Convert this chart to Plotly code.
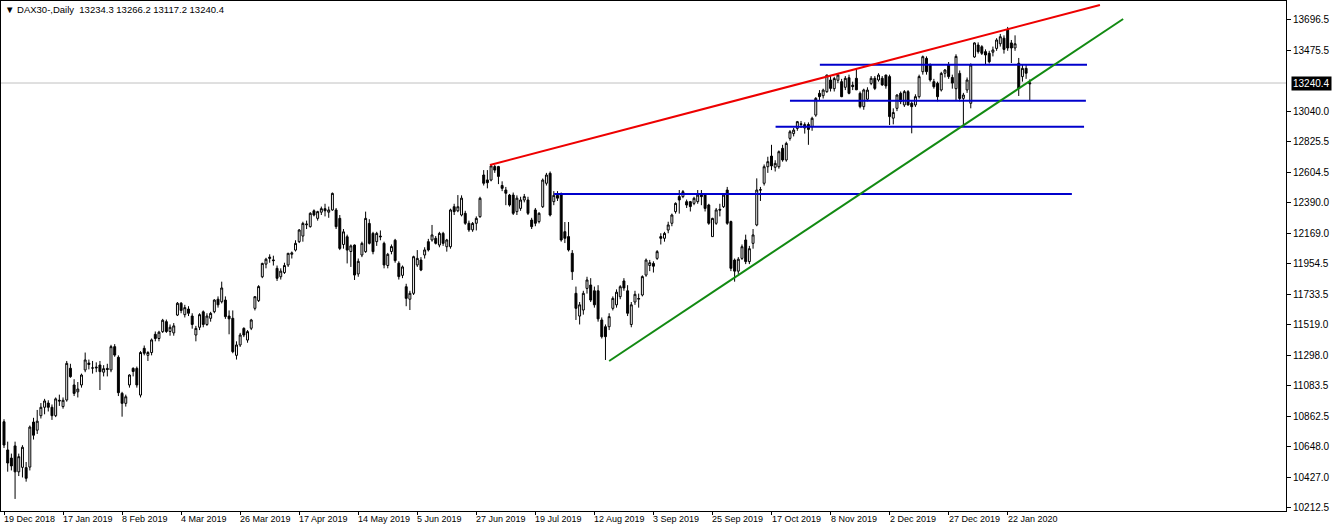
import plotly.graph_objects as go

# ---- Daily OHLC (bar index 0 = 19 Dec 2018, last = 30 Jan 2020) ----
opens = [
    10827, 10626, 10568, 10655, 10470, 10502, 10500, 10504, 10825, 10767,
    10870, 10930, 10960, 10930, 10870, 10980, 10935, 10982, 11208, 11089,
    11040, 11089, 11196, 11245, 11210, 11210, 11231, 11180, 11207, 11196,
    11362, 11286, 11029, 10958, 11089, 11207, 11207, 11017, 11350, 11300,
    11320, 11450, 11420, 11469, 11540, 11470, 11460, 11587, 11671, 11590,
    11630, 11580, 11445, 11500, 11610, 11520, 11564, 11611, 11700, 11682,
    11694, 11580, 11564, 11300, 11374, 11492, 11409, 11493, 11635, 11690,
    11860, 11950, 11990, 11980, 11920, 11860, 11890, 11944, 12020, 12050,
    12110, 12150, 12230, 12217, 12330, 12276, 12320, 12345, 12320, 12336,
    12336, 12276, 12090, 12145, 12040, 12086, 11880, 12015, 12039, 12240,
    12169, 12110, 12150, 12098, 11940, 12040, 12120, 11956, 11870, 11789,
    11700, 11742, 11944, 11979, 12015, 12110, 12122, 12134, 12086, 12169,
    12074, 12074, 12359, 12330, 12300, 12312, 12241, 12194, 12241, 12288,
    12585, 12550, 12549, 12645, 12645, 12510, 12478, 12442, 12442, 12324,
    12347, 12407, 12407, 12264, 12336, 12253, 12359, 12526, 12597, 12395,
    12440, 12443, 12181, 12146, 12027, 11742, 11580, 11623, 11777, 11801,
    11760, 11760, 11552, 11504, 11504, 11635, 11660, 11718, 11830, 11760,
    11520, 11680, 11700, 11730, 11872, 11940, 11955, 11991, 12146, 12134,
    12193, 12241, 12324, 12431, 12431, 12395, 12395, 12383, 12395, 12442,
    12442, 12371, 12146, 12241, 12340, 12359, 12478, 12253, 11979, 11900,
    11991, 12122, 11968, 12098, 12229, 12480, 12526, 12644, 12720, 12640,
    12644, 12775, 12692, 12846, 12880, 12917, 12950, 12920, 12945, 12929,
    13012, 13167, 13150, 13179, 13262, 13200, 13260, 13250, 13210, 13278,
    13225, 13274, 13167, 13072, 13125, 13238, 13274, 13262, 13274, 13297,
    13286, 12990, 13060, 13167, 13084, 13179, 13096, 13084, 13143, 13321,
    13416, 13369, 13250, 13238, 13191, 13310, 13369, 13280, 13200, 13309,
    13131, 13191, 13096, 13426, 13511, 13499, 13464, 13452, 13460, 13487,
    13520, 13560, 13620, 13526, 13490, 13381, 13286, 13345, 13234.3,
]
highs = [
    10845, 10685, 10600, 10685, 10600, 10660, 10540, 10800, 10855, 10911,
    10960, 10990, 10980, 10950, 11000, 11020, 11000, 11260, 11240, 11130,
    11110, 11170, 11320, 11270, 11260, 11250, 11260, 11230, 11240, 11375,
    11380, 11300, 11040, 11020, 11165, 11215, 11220, 11330, 11370, 11330,
    11420, 11470, 11475, 11560, 11555, 11520, 11530, 11680, 11680, 11660,
    11650, 11600, 11510, 11600, 11620, 11600, 11610, 11700, 11720, 11825,
    11720, 11620, 11620, 11400, 11460, 11500, 11480, 11560, 11720, 11800,
    11960, 11995, 12020, 12010, 11940, 11920, 11960, 12030, 12040, 12120,
    12200, 12252, 12260, 12320, 12340, 12330, 12360, 12380, 12360, 12460,
    12350, 12300, 12200, 12160, 12090, 12090, 11990, 12110, 12324, 12270,
    12180, 12180, 12190, 12110, 12030, 12090, 12130, 11970, 11940, 11810,
    11760, 12010, 12050, 12000, 12070, 12130, 12229, 12150, 12180, 12180,
    12130, 12345, 12380, 12442, 12440, 12330, 12260, 12250, 12290, 12430,
    12620, 12620, 12656, 12656, 12650, 12540, 12500, 12450, 12460, 12440,
    12430, 12450, 12430, 12280, 12350, 12320, 12560, 12600, 12610, 12470,
    12470, 12460, 12250, 12250, 12050, 11790, 11680, 11760, 11860, 11850,
    11790, 11800, 11570, 11520, 11600, 11720, 11770, 11800, 11850, 11800,
    11680, 11760, 11740, 11870, 11990, 11980, 11970, 12050, 12170, 12180,
    12252, 12310, 12390, 12478, 12478, 12410, 12400, 12430, 12478, 12478,
    12450, 12380, 12280, 12350, 12380, 12450, 12500, 12260, 11990, 12000,
    12090, 12160, 12080, 12200, 12561, 12500, 12660, 12715, 12800, 12690,
    12760, 12800, 12822, 12905, 12920, 12970, 12970, 12960, 12960, 13000,
    13140, 13190, 13200, 13300, 13290, 13285, 13310, 13270, 13290, 13300,
    13250, 13345, 13180, 13200, 13210, 13290, 13290, 13310, 13290, 13300,
    13300, 13060, 13160, 13180, 13190, 13190, 13110, 13160, 13300, 13436,
    13430, 13380, 13270, 13250, 13320, 13340, 13390, 13300, 13445, 13330,
    13170, 13280, 13380, 13530, 13530, 13510, 13480, 13470, 13500, 13560,
    13590, 13580, 13640, 13547, 13580, 13419, 13370, 13370, 13266.2,
]
lows = [
    10640, 10471, 10480, 10277, 10440, 10430, 10400, 10480, 10700, 10740,
    10850, 10880, 10900, 10840, 10860, 10940, 10920, 10970, 11140, 11010,
    11000, 11070, 11180, 11200, 11170, 11180, 11053, 11150, 11150, 11180,
    11290, 11010, 10863, 10935, 11070, 11150, 11070, 11000, 11300, 11260,
    11300, 11400, 11400, 11460, 11460, 11440, 11440, 11580, 11600, 11570,
    11580, 11490, 11400, 11480, 11500, 11510, 11540, 11600, 11640, 11670,
    11560, 11450, 11315, 11270, 11360, 11430, 11390, 11480, 11620, 11680,
    11850, 11920, 11960, 11940, 11830, 11840, 11880, 11930, 11990, 12040,
    12100, 12110, 12200, 12210, 12290, 12260, 12300, 12290, 12280, 12330,
    12200, 12050, 12060, 11955, 11930, 11837, 11860, 12000, 12030, 12090,
    12020, 12080, 12120, 11920, 11920, 12020, 11960, 11840, 11850, 11650,
    11623, 11730, 11930, 11900, 11990, 12040, 12110, 12090, 12070, 12080,
    12039, 12060, 12300, 12320, 12290, 12230, 12180, 12180, 12190, 12280,
    12510, 12490, 12540, 12600, 12520, 12470, 12370, 12360, 12300, 12300,
    12330, 12390, 12300, 12200, 12220, 12240, 12350, 12510, 12290, 12370,
    12400, 12110, 12100, 12040, 11837, 11552, 11520, 11590, 11740, 11680,
    11640, 11540, 11420, 11267, 11480, 11620, 11640, 11700, 11760, 11580,
    11500, 11660, 11640, 11720, 11860, 11900, 11890, 11980, 12090, 12110,
    12170, 12220, 12310, 12310, 12420, 12350, 12325, 12370, 12380, 12370,
    12325, 12230, 12146, 12230, 12290, 12350, 12230, 11900, 11825, 11880,
    11980, 11950, 11950, 12060, 12220, 12400, 12510, 12600, 12620, 12610,
    12630, 12680, 12680, 12830, 12860, 12900, 12920, 12880, 12800, 12900,
    13000, 13120, 13130, 13170, 13180, 13180, 13240, 13140, 13190, 13160,
    13190, 13190, 13060, 13050, 13110, 13225, 13190, 13250, 13220, 13200,
    12941, 12946, 13040, 13090, 13070, 13080, 12882, 13070, 13130, 13300,
    13300, 13250, 13200, 13110, 13180, 13280, 13270, 13200, 13119, 13110,
    12941, 13170, 13060, 13420, 13450, 13440, 13369, 13380, 13430, 13470,
    13500, 13450, 13470, 13383, 13470, 13148, 13250, 13270, 13117.2,
]
closes = [
    10661, 10533, 10512, 10470, 10578, 10645, 10424, 10789, 10731, 10831,
    10930, 10975, 10930, 10870, 10990, 10975, 10980, 11243, 11148, 11029,
    11060, 11160, 11267, 11235, 11210, 11215, 11184, 11205, 11200, 11362,
    11302, 11034, 10958, 11005, 11160, 11185, 11089, 11320, 11315, 11320,
    11410, 11420, 11465, 11550, 11470, 11500, 11510, 11671, 11620, 11640,
    11600, 11520, 11492, 11590, 11520, 11580, 11599, 11694, 11660, 11780,
    11576, 11560, 11326, 11374, 11445, 11445, 11469, 11552, 11718, 11790,
    11955, 11985, 12000, 11975, 11849, 11900, 11940, 12027, 12030, 12098,
    12193, 12240, 12235, 12312, 12300, 12324, 12345, 12330, 12336, 12454,
    12217, 12062, 12180, 12050, 12080, 11872, 11970, 12098, 12276, 12098,
    12039, 12169, 12145, 11944, 12020, 12075, 11975, 11861, 11930, 11706,
    11742, 12003, 11991, 11908, 12051, 12051, 12158, 12098, 12169, 12098,
    12122, 12336, 12324, 12359, 12420, 12241, 12194, 12240, 12276, 12419,
    12526, 12530, 12650, 12620, 12575, 12490, 12455, 12371, 12312, 12420,
    12407, 12431, 12312, 12217, 12241, 12312, 12549, 12585, 12300, 12440,
    12420, 12122, 12134, 12051, 11896, 11635, 11660, 11742, 11837, 11694,
    11660, 11560, 11433, 11433, 11576, 11706, 11750, 11789, 11780, 11600,
    11660, 11735, 11705, 11861, 11979, 11960, 11935, 12039, 12134, 12169,
    12229, 12300, 12383, 12407, 12466, 12371, 12360, 12419, 12442, 12431,
    12347, 12241, 12276, 12336, 12335, 12442, 12241, 11920, 11900, 11985,
    12074, 11968, 12060, 12158, 12478, 12478, 12644, 12680, 12650, 12668,
    12751, 12692, 12810, 12893, 12905, 12965, 12945, 12945, 12910, 12989,
    13131, 13143, 13190, 13297, 13202, 13272, 13297, 13143, 13274, 13167,
    13215, 13192, 13072, 13191, 13190, 13274, 13202, 13297, 13227, 13220,
    13001, 13030, 13155, 13108, 13179, 13084, 13072, 13143, 13286, 13428,
    13321, 13262, 13214, 13143, 13309, 13333, 13286, 13240, 13430, 13130,
    13155, 13262, 13369, 13526, 13464, 13452, 13440, 13392, 13476, 13547,
    13570, 13480, 13490, 13490, 13520, 13202, 13345, 13310, 13240.4,
]

# time-scale labels (one every 16 bars)
date_labels = [
    "19 Dec 2018", "17 Jan 2019", "8 Feb 2019", "4 Mar 2019", "26 Mar 2019",
    "17 Apr 2019", "14 May 2019", "5 Jun 2019", "27 Jun 2019", "19 Jul 2019",
    "12 Aug 2019", "3 Sep 2019", "25 Sep 2019", "17 Oct 2019", "8 Nov 2019",
    "2 Dec 2019", "27 Dec 2019", "22 Jan 2020",
]
label_step = 16

# price scale
price_ticks = [13696.5, 13475.5, 13040.0, 12825.5, 12604.5, 12390.0, 12169.0,
               11954.5, 11733.5, 11519.0, 11298.0, 11083.5, 10862.5, 10648.0,
               10427.0, 10212.5]
price_tick_text = ["13696.5", "13475.5", "13040.0", "12825.5", "12604.5", "12390.0",
                   "12169.0", "11954.5", "11733.5", "11519.0", "11298.0", "11083.5",
                   "10862.5", "10648.0", "10427.0", "10212.5"]
last_price = 13240.4
header_text = "\u25bc DAX30-,Daily  13234.3 13266.2 13117.2 13240.4"

# drawn objects (bar index, price)
red_line_x = [131.7, 297.0]
red_line_y = [12656.25, 13796.25]
green_line_x = [164.0, 303.3]
green_line_y = [11259.75, 13696.5]
blue_levels = [12449.6, 12929.0, 13114.0, 13371.0]
blue_starts = [149.1, 209.1, 213.0, 221.1]
blue_ends = [289.4, 292.7, 293.2, 293.5]

bars = list(range(len(closes)))
label_bars = list(range(0, len(date_labels) * label_step, label_step))

fig = go.Figure()
fig.add_trace(go.Candlestick(
    x=bars, open=opens, high=highs, low=lows, close=closes,
    increasing=dict(line=dict(color="black", width=1), fillcolor="white"),
    decreasing=dict(line=dict(color="black", width=1), fillcolor="black"),
    whiskerwidth=0, showlegend=False, hoverinfo="skip",
))

for lvl, x0, x1 in zip(blue_levels, blue_starts, blue_ends):
    fig.add_trace(go.Scatter(x=[x0, x1], y=[lvl, lvl], mode="lines",
                             line=dict(color="#0000cc", width=2),
                             showlegend=False, hoverinfo="skip"))
fig.add_trace(go.Scatter(x=red_line_x, y=red_line_y, mode="lines",
                         line=dict(color="#ee0000", width=2),
                         showlegend=False, hoverinfo="skip"))
fig.add_trace(go.Scatter(x=green_line_x, y=green_line_y, mode="lines",
                         line=dict(color="#128a12", width=2),
                         showlegend=False, hoverinfo="skip"))

# current price line
fig.add_shape(type="line", xref="paper", x0=0, x1=1, yref="y",
              y0=last_price, y1=last_price,
              line=dict(color="#c0c0c0", width=1), layer="below")

annotations = []
for b, txt in zip(label_bars, date_labels):
    annotations.append(dict(x=b, xref="x", y=0, yref="paper", text=txt,
                            showarrow=False, xanchor="left", yanchor="top",
                            xshift=-2, yshift=-1,
                            font=dict(family="Liberation Sans, Arial", size=9, color="black")))
annotations.append(dict(x=0, xref="paper", y=1, yref="paper", text=header_text,
                        showarrow=False, xanchor="left", yanchor="top",
                        xshift=2, yshift=-1,
                        font=dict(family="Liberation Sans, DejaVu Sans", size=9.5, color="black")))
annotations.append(dict(x=1, xref="paper", y=last_price, yref="y", text=str(last_price),
                        showarrow=False, xanchor="left", yanchor="middle", xshift=5,
                        bgcolor="black", borderpad=1,
                        font=dict(family="Liberation Sans, Arial", size=10, color="white")))

fig.update_layout(
    width=1332, height=530,
    margin=dict(l=1, r=46, t=1, b=19),
    paper_bgcolor="white", plot_bgcolor="white",
    boxgap=0.25,
    hovermode=False,
    annotations=annotations,
    xaxis=dict(range=[-0.813, 347.43], tickvals=label_bars, showticklabels=False,
               ticks="outside", ticklen=3, tickcolor="black",
               showgrid=False, zeroline=False, showline=True, linecolor="black",
               linewidth=1, mirror=True, rangeslider=dict(visible=False), fixedrange=True),
    yaxis=dict(side="right", range=[10191.0, 13824.75], tickvals=price_ticks,
               ticktext=price_tick_text, ticks="outside", ticklen=4, tickcolor="black",
               showgrid=False, zeroline=False, showline=True, linecolor="black",
               linewidth=1, mirror=True, fixedrange=True,
               tickfont=dict(family="Liberation Sans, Arial", size=10, color="black")),
)

fig.write_html("out.html", config={"displayModeBar": False},
               post_script="document.body.style.margin='0';")
